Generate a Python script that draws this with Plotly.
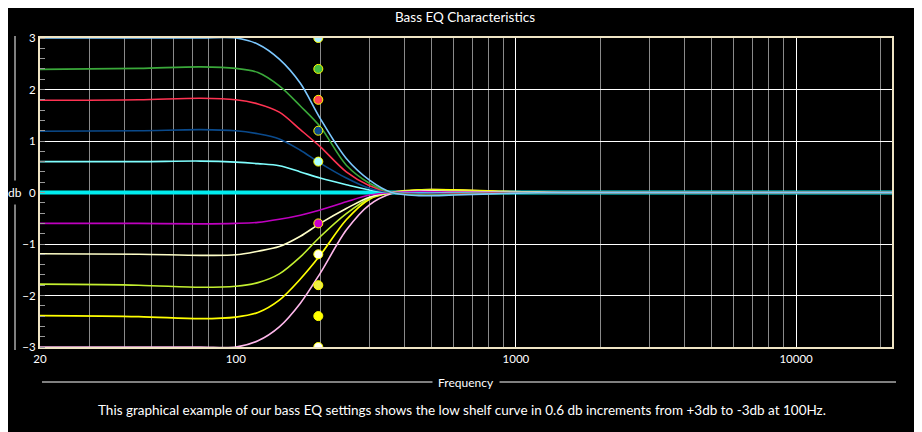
import plotly.graph_objects as go

##### Data

# frequency points (Hz) the curves are sampled at
freqs = [20, 45, 75, 100, 120, 143, 170, 200, 248, 300, 360, 450, 600, 900, 1500, 22000]

# gain response (db) of each shelf setting
gain_p30 = [3.0, 3.0, 3.0, 3.0, 2.88, 2.59, 2.12, 1.44, 0.66, 0.24, 0.0, -0.06, -0.05, -0.02, 0.0, 0.0]
gain_p24 = [2.39, 2.41, 2.44, 2.41, 2.33, 2.07, 1.68, 1.28, 0.53, 0.18, 0.0, -0.05, -0.04, -0.02, 0.0, 0.0]
gain_p18 = [1.79, 1.80, 1.83, 1.80, 1.72, 1.56, 1.22, 0.89, 0.40, 0.13, 0.0, -0.04, -0.03, -0.01, 0.0, 0.0]
gain_p12 = [1.19, 1.20, 1.22, 1.20, 1.14, 1.04, 0.82, 0.57, 0.28, 0.08, 0.0, -0.03, -0.02, -0.01, 0.0, 0.0]
gain_p06 = [0.60, 0.60, 0.61, 0.59, 0.56, 0.52, 0.40, 0.28, 0.15, 0.05, 0.0, -0.02, -0.01, 0.0, 0.0, 0.0]
gain_0 = [0, 0, 0, 0, 0, 0, 0, 0, 0, 0, 0, 0, 0, 0, 0, 0]
gain_m06 = [-0.60, -0.60, -0.61, -0.60, -0.58, -0.52, -0.44, -0.34, -0.18, -0.05, 0.0, 0.02, 0.01, 0.0, 0.0, 0.0]
gain_m12 = [-1.19, -1.20, -1.22, -1.21, -1.14, -1.05, -0.85, -0.60, -0.31, -0.09, 0.0, 0.03, 0.02, 0.01, 0.0, 0.0]
gain_m18 = [-1.78, -1.80, -1.84, -1.82, -1.75, -1.58, -1.25, -0.86, -0.41, -0.11, 0.0, 0.04, 0.03, 0.01, 0.0, 0.0]
gain_m24 = [-2.39, -2.41, -2.45, -2.42, -2.33, -2.09, -1.68, -1.22, -0.53, -0.13, 0.0, 0.05, 0.05, 0.02, 0.0, 0.0]
gain_m30 = [-3.0, -3.0, -3.0, -3.0, -2.88, -2.61, -2.15, -1.57, -0.73, -0.24, -0.02, 0.05, 0.05, 0.02, 0.0, 0.0]

# setting markers
marker_freq = 197
marker_gains = [3, 2.4, 1.8, 1.2, 0.6, -0.6, -1.2, -1.8, -2.4, -3]

x_ticks = [20, 100, 1000, 10000]
x_minor = [30, 40, 50, 60, 70, 80, 90,
           200, 300, 400, 500, 600, 700, 800, 900,
           2000, 3000, 4000, 5000, 6000, 7000, 8000, 9000, 20000]
y_ticks = [-3, -2, -1, 0, 1, 2, 3]

##### Styles
curves = [
    (gain_0, "#00eef0", 4),
    (gain_m30, "#ffb8ec", 1.6),
    (gain_m24, "#ffff00", 1.7),
    (gain_m18, "#c4f030", 1.6),
    (gain_m12, "#ffffc8", 1.6),
    (gain_m06, "#c000c0", 1.6),
    (gain_p06, "#80ffff", 1.6),
    (gain_p12, "#0a4a8c", 1.6),
    (gain_p18, "#ff3352", 1.6),
    (gain_p24, "#3aa83a", 1.6),
    (gain_p30, "#7cc8ff", 1.6),
]
marker_colors = ["#a8f0ff", "#44bb44", "#ff4455", "#0a4a8c", "#aaffff",
                 "#cc00cc", "#ffffee", "#eeee44", "#ffff00", "#ffffff"]

# page pixels of the window and of the plot area
W, H = 922, 432
L, R, T, B = 40, 892, 38, 347
O = 8  # the page body margin shifts the figure by this much


def px(x):
    return (x - L) / (R - L)


def py(y):
    return (B - y) / (B - T)


fig = go.Figure()

for ys, col, w in curves:
    fig.add_trace(go.Scatter(
        x=freqs, y=ys, mode="lines",
        line=dict(color=col, width=w, shape="spline", smoothing=0.9),
        hoverinfo="skip"))

fig.add_trace(go.Scatter(
    x=[marker_freq] * len(marker_gains), y=marker_gains, mode="markers",
    marker=dict(size=9, color=marker_colors, line=dict(color="#ffff00", width=1))))

font = "Lato, 'Open Sans', sans-serif"

fig.update_layout(
    width=W - O, height=H - O,
    paper_bgcolor="black", plot_bgcolor="black",
    margin=dict(l=L - O, r=W - R, t=T - O, b=H - B),
    showlegend=False,
    font=dict(family=font, color="white", size=11),
    title=dict(text="Bass EQ Characteristics", x=0.5, xanchor="center",
               y=1 - (17 - O) / (H - O), yanchor="middle",
               font=dict(size=13.5, color="white")),
    xaxis=dict(
        type="log", range=[1.30103, 4.3424],
        tickvals=x_ticks, ticktext=[str(v) for v in x_ticks],
        showgrid=True, gridcolor="#ffffff", gridwidth=1,
        minor=dict(tickvals=x_minor, showgrid=True, gridcolor="#8a8a8a", gridwidth=1),
        showline=True, mirror=True, linecolor="#efe4c4", linewidth=2,
        zeroline=False, ticks="", tickfont=dict(size=11.5, color="white"),
    ),
    yaxis=dict(
        range=[-3, 3], tickvals=y_ticks,
        showgrid=True, gridcolor="#ffffff", gridwidth=1,
        minor=dict(dtick=0.2, ticks="inside", ticklen=5, tickcolor="#999999",
                   showgrid=False),
        showline=True, mirror=True, linecolor="#efe4c4", linewidth=2,
        zeroline=False, ticks="", tickfont=dict(size=11.5, color="white"),
    ),
    shapes=[
        # x axis title rule
        dict(type="line", xref="paper", yref="paper",
             x0=px(42), x1=px(896), y0=py(382), y1=py(382),
             line=dict(color="white", width=1)),
        # y axis title rule
        dict(type="line", xref="paper", yref="paper",
             x0=px(15), x1=px(15), y0=py(36), y1=py(350),
             line=dict(color="white", width=1)),
    ],
    annotations=[
        dict(text="Frequency", xref="paper", yref="paper",
             x=px(466), y=py(382), xanchor="center", yanchor="middle",
             showarrow=False, bgcolor="black",
             borderpad=5, font=dict(size=12, color="white")),
        dict(text="db", xref="paper", yref="paper",
             x=px(15), y=py(193), xanchor="center", yanchor="middle",
             showarrow=False, bgcolor="black",
             borderpad=4, font=dict(size=12, color="white")),
        dict(text="This graphical example of our bass EQ settings shows the low shelf curve "
                  "in 0.6 db increments from +3db to -3db at 100Hz.",
             xref="paper", yref="paper", x=px(462), y=py(410),
             xanchor="center", yanchor="middle", showarrow=False,
             font=dict(size=13.5, color="white")),
    ],
)

fig.write_html("out.html")
